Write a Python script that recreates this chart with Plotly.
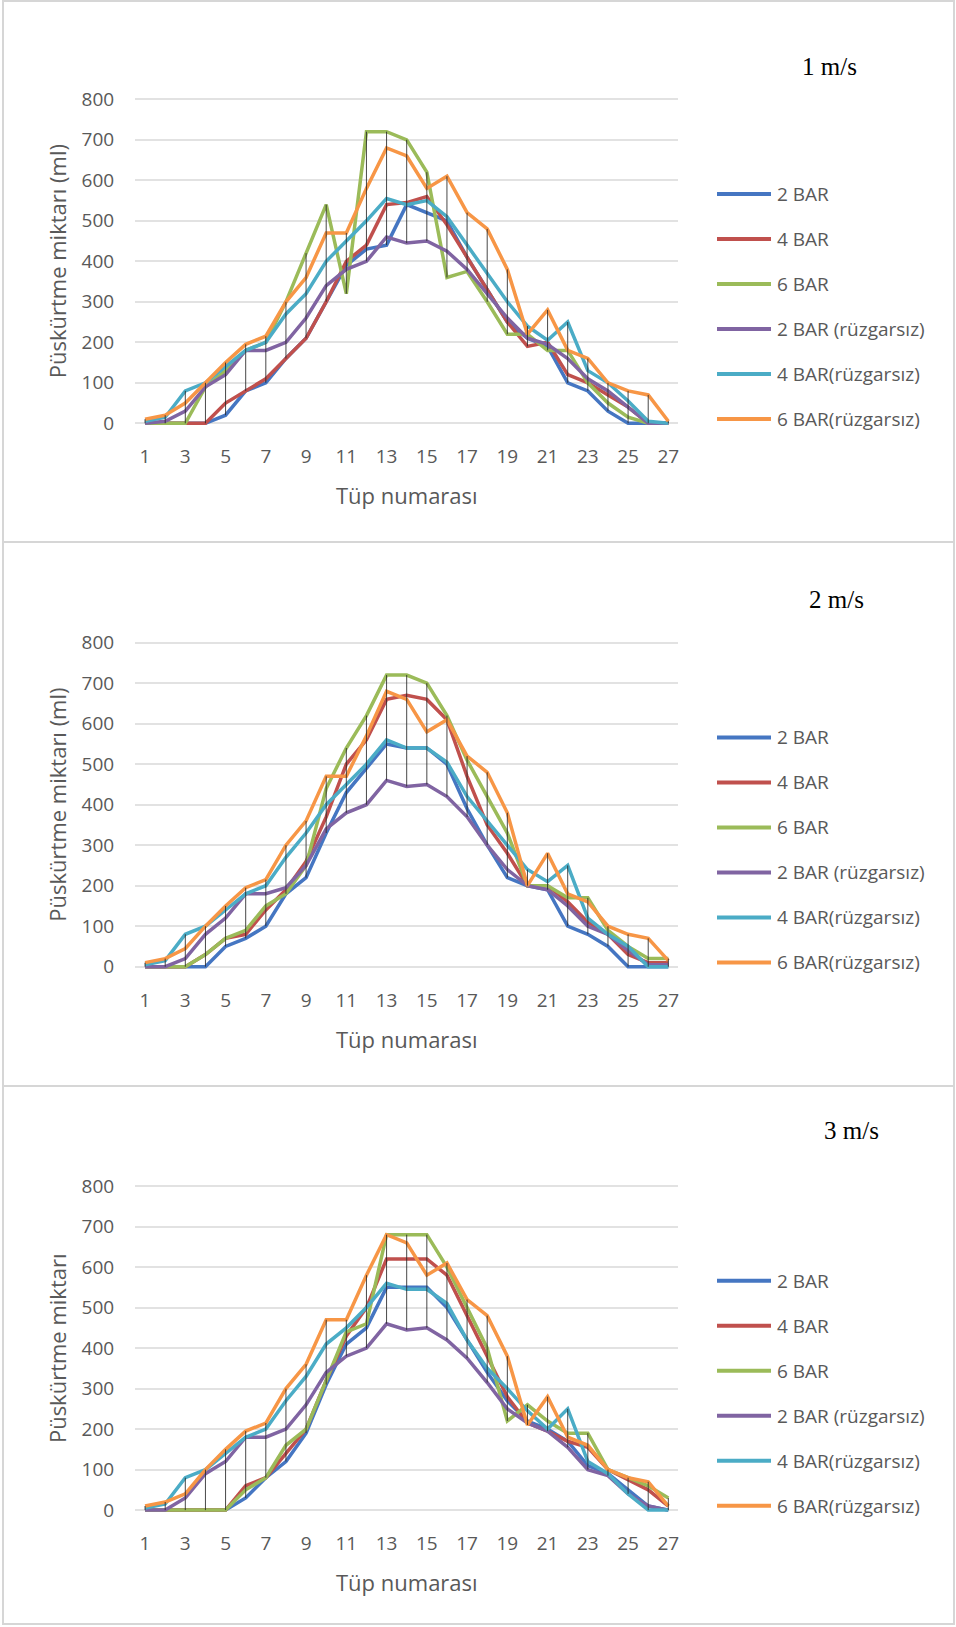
import plotly.graph_objects as go

# Tube numbers along the spray boom
tubes = list(range(1, 28))
x_ticks = list(range(1, 28, 2))

series_names = ["2 BAR", "4 BAR", "6 BAR", "2 BAR (rüzgarsız)", "4 BAR(rüzgarsız)", "6 BAR(rüzgarsız)"]
series_colors = ["#4576C2", "#C0504D", "#9BBB59", "#8064A2", "#4BACC6", "#F79646"]

# ---- 1 m/s ----
w1_bar2 = [0, 0, 0, 0, 20, 80, 100, 160, 210, 300, 390, 430, 440, 540, 520, 500, 410, 330, 250, 210, 190, 100, 80, 30, 0, 0, 0]
w1_bar4 = [0, 0, 0, 0, 50, 80, 110, 160, 210, 300, 400, 440, 540, 545, 560, 490, 410, 330, 250, 190, 200, 120, 100, 70, 40, 0, 0]
w1_bar6 = [0, 0, 0, 90, 130, 180, 200, 300, 420, 540, 320, 720, 720, 700, 620, 360, 375, 300, 220, 220, 180, 180, 100, 50, 15, 0, 0]
w1_bar2_calm = [0, 5, 30, 90, 120, 180, 180, 200, 260, 340, 380, 400, 460, 445, 450, 425, 380, 320, 260, 210, 195, 160, 110, 80, 40, 0, 0]
w1_bar4_calm = [5, 15, 80, 100, 140, 180, 200, 270, 320, 400, 450, 500, 555, 540, 550, 510, 440, 370, 300, 240, 205, 250, 130, 100, 55, 5, 0]
w1_bar6_calm = [10, 20, 50, 100, 150, 195, 215, 300, 360, 470, 470, 580, 680, 660, 580, 610, 520, 480, 380, 220, 280, 180, 160, 100, 80, 70, 5]

# ---- 2 m/s ----
w2_bar2 = [0, 0, 0, 0, 50, 70, 100, 180, 220, 330, 430, 490, 550, 540, 540, 500, 390, 300, 220, 200, 190, 100, 80, 50, 0, 0, 0]
w2_bar4 = [0, 0, 0, 30, 70, 80, 140, 190, 260, 370, 500, 560, 660, 670, 660, 610, 470, 350, 280, 200, 200, 160, 110, 80, 30, 10, 10]
w2_bar6 = [0, 0, 0, 30, 70, 90, 150, 180, 250, 440, 540, 620, 720, 720, 700, 620, 510, 420, 330, 200, 200, 170, 170, 90, 50, 20, 20]
w2_bar2_calm = [0, 0, 20, 80, 120, 180, 180, 195, 250, 340, 380, 400, 460, 445, 450, 420, 370, 300, 240, 200, 190, 150, 100, 80, 40, 5, 5]
w2_bar4_calm = [5, 15, 80, 100, 140, 180, 200, 270, 330, 400, 450, 500, 560, 540, 540, 505, 420, 360, 300, 240, 210, 250, 120, 80, 50, 0, 0]
w2_bar6_calm = [10, 20, 45, 100, 150, 195, 215, 300, 360, 470, 470, 570, 680, 660, 580, 610, 520, 480, 380, 200, 280, 180, 160, 100, 80, 70, 15]

# ---- 3 m/s ----
w3_bar2 = [0, 0, 0, 0, 0, 30, 80, 120, 190, 310, 410, 450, 550, 550, 550, 500, 420, 340, 270, 220, 200, 170, 110, 90, 50, 10, 0]
w3_bar4 = [0, 0, 0, 0, 0, 60, 80, 140, 200, 320, 430, 500, 620, 620, 620, 580, 480, 380, 280, 215, 195, 170, 155, 100, 75, 50, 10]
w3_bar6 = [0, 0, 0, 0, 0, 50, 80, 160, 200, 320, 440, 460, 680, 680, 680, 600, 500, 400, 220, 260, 220, 190, 190, 100, 80, 60, 30]
w3_bar2_calm = [0, 0, 30, 90, 120, 180, 180, 200, 260, 340, 380, 400, 460, 445, 450, 420, 375, 315, 250, 215, 195, 155, 100, 85, 40, 10, 0]
w3_bar4_calm = [5, 15, 80, 100, 140, 180, 200, 270, 330, 410, 450, 500, 560, 545, 545, 510, 420, 350, 300, 245, 200, 250, 120, 90, 40, 0, 0]
w3_bar6_calm = [10, 20, 40, 100, 150, 195, 215, 300, 360, 470, 470, 580, 680, 660, 580, 610, 520, 480, 380, 210, 280, 180, 160, 100, 80, 70, 10]

panels = [
    ("1 m/s", "Püskürtme miktarı (ml)",
     [w1_bar2, w1_bar4, w1_bar6, w1_bar2_calm, w1_bar4_calm, w1_bar6_calm]),
    ("2 m/s", "Püskürtme miktarı (ml)",
     [w2_bar2, w2_bar4, w2_bar6, w2_bar2_calm, w2_bar4_calm, w2_bar6_calm]),
    ("3 m/s", "Püskürtme miktarı",
     [w3_bar2, w3_bar4, w3_bar6, w3_bar2_calm, w3_bar4_calm, w3_bar6_calm]),
]

W, H = 956, 1627
TEXT = "#595959"
SANS = "Open Sans"


def fx(px):
    return px / W


def fy(px):
    return 1 - px / H


fig = go.Figure()
shapes = []
annotations = []

PANEL_STEP = 543.4
UNIT = 324.0 / 800.0          # pixels per ml
Y_LO, Y_HI = -10, 810
X_LEFT, X_RIGHT = 135.0, 678.4
title_pos = [(829, 66), (836, 600), (851, 1130)]

for k, (title, ytitle, data) in enumerate(panels):
    n = "" if k == 0 else str(k + 1)
    xa, ya = "x" + n, "y" + n
    zero_px = 423.3 + PANEL_STEP * k
    bottom_px = zero_px - Y_LO * UNIT
    top_px = zero_px - Y_HI * UNIT

    for name, color, vals in zip(series_names, series_colors, data):
        fig.add_trace(go.Scatter(
            x=tubes, y=vals, name=name, mode="lines",
            line=dict(color=color, width=3.5),
            xaxis=xa, yaxis=ya, showlegend=False,
        ))

    # high-low lines joining the extremes of all series at each tube
    lows = [min(col) for col in zip(*data)]
    highs = [max(col) for col in zip(*data)]
    hx, hy = [], []
    for t, lo, hi in zip(tubes, lows, highs):
        hx += [t, t, None]
        hy += [lo, hi, None]
    fig.add_trace(go.Scatter(
        x=hx, y=hy, mode="lines", line=dict(color="rgba(40,40,40,0.85)", width=1),
        xaxis=xa, yaxis=ya, showlegend=False, hoverinfo="skip",
    ))

    fig.layout["xaxis" + n] = dict(
        domain=[fx(X_LEFT), fx(X_RIGHT)], range=[0.5, 27.5], anchor=ya,
        tickvals=x_ticks, ticktext=[str(v) for v in x_ticks],
        showgrid=False, zeroline=False, showline=False, automargin=False,
        ticks="outside", ticklen=12, tickcolor="rgba(0,0,0,0)",
        tickfont=dict(family=SANS, size=19, color=TEXT),
    )
    fig.layout["yaxis" + n] = dict(
        domain=[fy(bottom_px), fy(top_px)], range=[Y_LO, Y_HI], anchor=xa,
        tickvals=list(range(0, 801, 100)),
        showgrid=True, gridcolor="#e2e2e2", gridwidth=1.6,
        zeroline=False, showline=False, automargin=False,
        ticks="outside", ticklen=16, tickcolor="rgba(0,0,0,0)",
        tickfont=dict(family=SANS, size=19, color=TEXT),
    )

    # axis titles
    annotations.append(dict(
        text=ytitle, xref="paper", yref="paper", x=fx(57), y=fy(zero_px - 400 * UNIT),
        textangle=-90, showarrow=False, xanchor="center", yanchor="middle",
        font=dict(family=SANS, size=22, color=TEXT),
    ))
    annotations.append(dict(
        text="Tüp numarası", xref="paper", yref="paper", x=fx(407), y=fy(zero_px + 72),
        showarrow=False, xanchor="center", yanchor="middle",
        font=dict(family=SANS, size=22, color=TEXT),
    ))
    # wind speed label
    tx, ty = title_pos[k]
    annotations.append(dict(
        text=title, xref="paper", yref="paper", x=fx(tx), y=fy(ty),
        showarrow=False, xanchor="center", yanchor="middle",
        font=dict(family="Liberation Serif", size=25, color="#000000"),
    ))

    # legend
    leg_top = 194 + PANEL_STEP * k
    for i, (name, color) in enumerate(zip(series_names, series_colors)):
        yy = leg_top + 45 * i
        shapes.append(dict(
            type="line", xref="paper", yref="paper",
            x0=fx(717), x1=fx(771), y0=fy(yy), y1=fy(yy),
            line=dict(color=color, width=4),
        ))
        annotations.append(dict(
            text=name, xref="paper", yref="paper", x=fx(775), y=fy(yy),
            showarrow=False, xanchor="left", yanchor="middle",
            font=dict(family=SANS, size=19, color=TEXT),
        ))

# panel frames
border = dict(color="#d6d6d6", width=2)
shapes.append(dict(type="rect", xref="paper", yref="paper",
                   x0=fx(3), x1=fx(954), y0=fy(1), y1=fy(1624), line=border))
for sep in (542, 1086):
    shapes.append(dict(type="line", xref="paper", yref="paper",
                       x0=fx(3), x1=fx(954), y0=fy(sep), y1=fy(sep), line=border))

fig.update_layout(
    width=W, height=H,
    margin=dict(l=0, r=0, t=0, b=0, pad=0, autoexpand=False),
    paper_bgcolor="white", plot_bgcolor="white",
    shapes=shapes, annotations=annotations,
    showlegend=False,
)

fig.write_html("out.html")
